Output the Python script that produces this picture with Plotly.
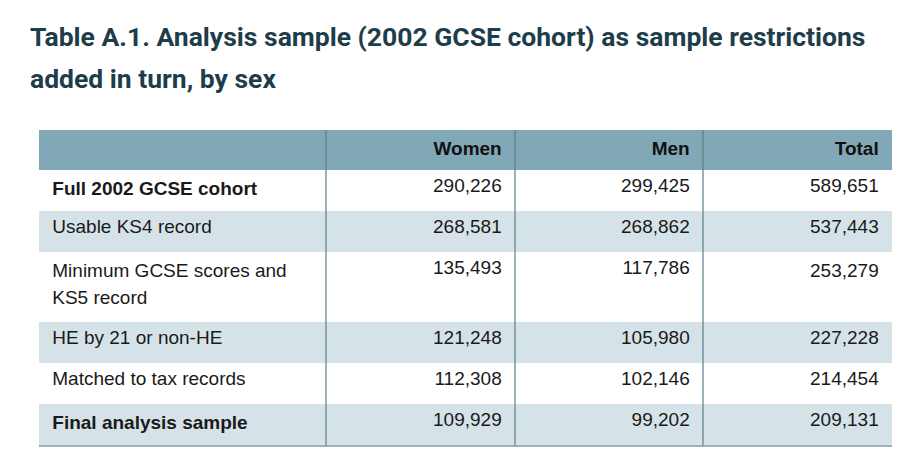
import plotly.graph_objects as go

# Table A.1 - sample restrictions by sex
stages = ['<b>Full 2002 GCSE cohort</b>',
          'Usable KS4 record',
          'Minimum GCSE scores and<br>KS5 record',
          'HE by 21 or non-HE',
          'Matched to tax records',
          '<b>Final analysis sample</b>']
women = [290226, 268581, 135493, 121248, 112308, 109929]
men = [299425, 268862, 117786, 105980, 102146, 99202]
total = [589651, 537443, 253279, 227228, 214454, 209131]
headers = ['', 'Women', 'Men', 'Total']

W, H = 923, 466
OFF = 8  # page body margin
FS = 19  # table text size

def px(x):
    return (x - OFF) / W


def py(y):
    return 1 - (y - OFF) / H


NB = '\u00a0'
SPAN = '<span style="font-size:%dpx">' % FS
fmt = lambda v: f'{v:,}' + NB
stripe = ['white', '#d5e3e8', 'white', '#d5e3e8', 'white', '#d5e3e8']


def lab(s):
    # wrapped lines in spans; the cell font size then only sets line spacing
    if '<br>' not in s:
        return NB + s
    return '<br>'.join(SPAN + NB + p + '</span>' for p in s.split('<br>'))


label_sizes = [21 if '<br>' in s else FS for s in stages]

# the wrapped row is taller in the source: pad it through the Total cell
total_txt = [fmt(v) for v in total]
total_sizes = [FS] * 6
for i, s in enumerate(stages):
    if '<br>' in s:
        total_txt[i] = SPAN + fmt(total[i]) + '</span><br>' + SPAN + NB + '</span>'
        total_sizes[i] = 25

table = dict(
    type='table',
    domain=dict(x=[px(39), px(892)], y=[0, py(130)]),
    columnwidth=[287, 189, 188, 189],
    header=dict(values=['<b>%s</b>' % h + NB for h in headers],
                fill=dict(color='#80a8b6'),
                line=dict(width=0),
                align=['left', 'right', 'right', 'right'],
                font=dict(family='Liberation Sans, Arial', size=FS, color='#111111'),
                height=40),
    cells=dict(values=[[lab(s) for s in stages],
                       [fmt(v) for v in women],
                       [fmt(v) for v in men],
                       total_txt],
               fill=dict(color=[stripe] * 4),
               line=dict(width=0),
               align=['left', 'right', 'right', 'right'],
               font=dict(family='Liberation Sans, Arial',
                         size=[label_sizes, [FS] * 6, [FS] * 6, total_sizes],
                         color='#1a1a1a'),
               height=41))

fig = go.Figure(data=[table], _validate=False)

# column dividers and bottom rule
for xp in [326, 515, 703]:
    fig.add_shape(type='line', xref='paper', yref='paper',
                  x0=px(xp), x1=px(xp), y0=py(130), y1=py(446),
                  line=dict(color='#5d7e8b', width=1.2))
fig.add_shape(type='line', xref='paper', yref='paper',
              x0=px(39), x1=px(892), y0=py(446), y1=py(446),
              line=dict(color='#7f96a0', width=1.5))

title_lines = ['Table A.1. Analysis sample (2002 GCSE cohort) as sample restrictions',
               'added in turn, by sex']
fig.add_annotation(
    text='<br>'.join('<span style="font-size:26.5px"><b>%s</b></span>' % t for t in title_lines),
    xref='paper', yref='paper', x=px(28), y=py(19), xanchor='left', yanchor='top',
    align='left', showarrow=False,
    font=dict(family='Roboto, Liberation Sans', size=32, color='#1e3d4b'))

fig.update_layout(
    width=W, height=H,
    margin=dict(l=0, r=0, t=0, b=0),
    paper_bgcolor='white',
)

fig.write_html("out.html")
